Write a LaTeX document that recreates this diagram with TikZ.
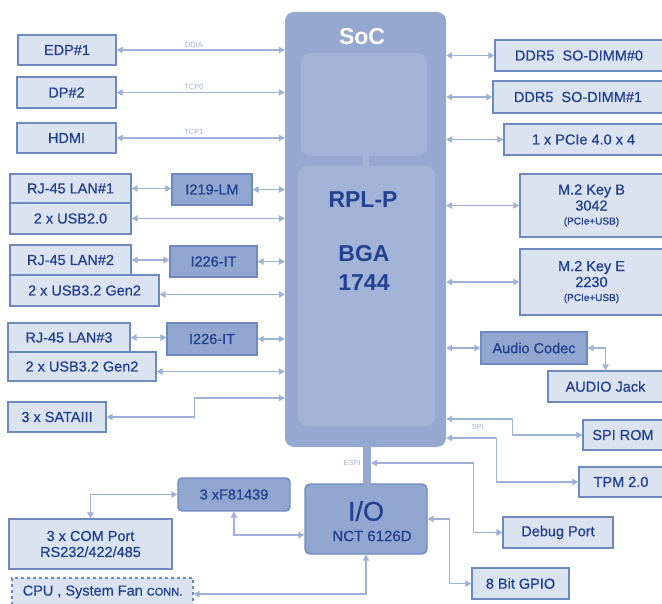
\documentclass[tikz,border=0pt]{standalone}
\usepackage{fontspec}
\setmainfont{Liberation Sans}
\newfontfamily\boxfont{Liberation Sans}[FakeBold=0.7]
\usetikzlibrary{arrows.meta,backgrounds}

\definecolor{txtblue}{RGB}{36,64,144}
\definecolor{linblue}{RGB}{158,178,214}
\definecolor{lightfill}{RGB}{219,227,241}
\definecolor{boxline}{RGB}{108,138,192}
\definecolor{darkfill}{RGB}{146,167,207}
\definecolor{socfill}{RGB}{148,168,208}
\definecolor{panelfill}{RGB}{161,180,216}

\begin{document}
\begin{tikzpicture}[x=1pt,y=-1pt]
    % `lightbox' is used for the connectors and slots.
    % `darkbox' is used for the chips (PHYs, codec, super I/O).
    % `link' is used for all the double arrows.
    \tikzstyle{lightbox} = [draw=boxline,fill=lightfill,line width=1.4pt,text=txtblue,
                            font=\boxfont\fontsize{14.5}{16}\selectfont,align=center,inner sep=0pt]
    \tikzstyle{darkbox} = [lightbox,fill=darkfill,draw=boxline]
    \tikzstyle{link} = [draw=linblue,line width=1.1pt,
                        {Triangle[length=6pt,width=6.5pt]}-{Triangle[length=6pt,width=6.5pt]}]
    \tikzstyle{tag} = [text=linblue,font=\fontsize{7.5}{8}\selectfont,inner sep=1pt]
    \tikzstyle{panel} = [fill=panelfill,rounded corners=9pt]
    %
    \useasboundingbox (0,0) rectangle (662,604);
    \fill[white] (0,0) rectangle (662,604);

    % SoC with its inner panels
    \node[fill=socfill,rounded corners=9pt,minimum width=161pt,minimum height=435pt] (soc) at (365.5,229.5) {};
    \fill[panel] (301,53) rectangle (427,156);
    \fill[panelfill] (363,155) rectangle (369,167);
    \fill[panel] (298,166) rectangle (435,426);
    \node[text=white,font=\bfseries\fontsize{23}{25}\selectfont] (soctitle) at (362,37) {SoC};
    \node[text=txtblue,font=\bfseries\fontsize{23}{26}\selectfont] (rpl) at (363,200) {RPL-P};
    \node[text=txtblue,font=\bfseries\fontsize{23}{29}\selectfont,align=center] (bga) at (364,268) {BGA\\1744};

    % super I/O and ESPI bar
    \node[darkbox,rounded corners=5pt,minimum width=122pt,minimum height=70pt] (io) at (366,519) {};
    \fill[socfill] (363,446) rectangle (371,485);
    \node[text=txtblue,font=\boxfont\fontsize{27}{29}\selectfont] (iotitle) at (366,511) {I/O};
    \node[text=txtblue,font=\boxfont\fontsize{15}{17}\selectfont] (ionct) at (372,536) {NCT 6126D};
    \coordinate (espiR) at (371,463);
    \node[tag,anchor=east] (espi) at (362,463) {ESPI};

    % left side
    \node[lightbox,minimum width=98pt,minimum height=30pt] (edp) at (67,50) {EDP\#1};
    \node[lightbox,minimum width=99pt,minimum height=31pt] (dp) at (66.5,92.5) {DP\#2};
    \node[lightbox,minimum width=99pt,minimum height=30pt] (hdmi) at (66.5,138) {HDMI};
    \node[lightbox,minimum width=121pt,minimum height=29pt] (lan1) at (70.5,188.5) {RJ-45 LAN\#1};
    \node[lightbox,minimum width=121pt,minimum height=31pt] (usb20) at (70.5,218.5) {2 x USB2.0};
    \node[darkbox,minimum width=80pt,minimum height=31pt] (i219) at (212,189.5) {I219-LM};
    \node[lightbox,minimum width=121pt,minimum height=30pt] (lan2) at (70.5,260) {RJ-45 LAN\#2};
    \node[lightbox,minimum width=149pt,minimum height=31pt] (usb32a) at (84.5,290.5) {2 x USB3.2 Gen2};
    \node[darkbox,minimum width=87pt,minimum height=31pt] (i226a) at (213.5,261.5) {I226-IT};
    \node[lightbox,minimum width=122pt,minimum height=29pt] (lan3) at (69,337.5) {RJ-45 LAN\#3};
    \node[lightbox,minimum width=148pt,minimum height=29pt] (usb32b) at (82,366.5) {2 x USB3.2 Gen2};
    \node[darkbox,minimum width=90pt,minimum height=32pt] (i226b) at (212,339) {I226-IT};
    \node[lightbox,minimum width=98pt,minimum height=30pt] (sata) at (57,417) {3 x SATAIII};
    \node[darkbox,rounded corners=4pt,minimum width=112pt,minimum height=33pt] (fintek) at (234,494.5) {3 xF81439};
    \node[lightbox,minimum width=163pt,minimum height=50pt] (com) at (90.5,544) {3 x COM Port\\RS232/422/485};
    \node[lightbox,dashed,minimum width=181pt,minimum height=28pt] (fan) at (102.5,592)
        {CPU , System Fan {\fontsize{11}{12}\selectfont CONN.}};

    % right side
    \node[lightbox,minimum width=168pt,minimum height=31pt] (ddr0) at (579,55.5) {DDR5\ \ SO-DIMM\#0};
    \node[lightbox,minimum width=170pt,minimum height=32pt] (ddr1) at (578,97) {DDR5\ \ SO-DIMM\#1};
    \node[lightbox,minimum width=159pt,minimum height=31pt] (pcie) at (583.5,139.5) {1 x PCIe 4.0 x 4};
    \node[lightbox,minimum width=143pt,minimum height=63pt] (m2b) at (591.5,205.5)
        {M.2 Key B\\3042\\[-2pt]{\fontsize{10}{11}\selectfont (PCIe+USB)}};
    \node[lightbox,minimum width=143pt,minimum height=66pt] (m2e) at (591.5,282)
        {M.2 Key E\\2230\\[-2pt]{\fontsize{10}{11}\selectfont (PCIe+USB)}};
    \node[darkbox,minimum width=106pt,minimum height=32pt] (codec) at (534,348) {Audio Codec};
    \node[lightbox,minimum width=115pt,minimum height=31pt] (jack) at (605.5,386.5) {AUDIO Jack};
    \node[lightbox,minimum width=80pt,minimum height=30pt] (spirom) at (623,435) {SPI ROM};
    \node[lightbox,minimum width=84pt,minimum height=30pt] (tpm) at (621,482) {TPM 2.0};
    \node[lightbox,minimum width=110pt,minimum height=31pt] (debug) at (558,532.5) {Debug Port};
    \node[lightbox,minimum width=97pt,minimum height=31pt] (gpio) at (520.5,583.5) {8 Bit GPIO};

    % Draw links on the left.
    \draw[link] (edp.east) -- (edp.east -| soc.west);
    \draw[link] (dp.east) -- (dp.east -| soc.west);
    \draw[link] (hdmi.east) -- (hdmi.east -| soc.west);
    \node[tag,anchor=south] (ddia) at (194,49) {DDIA};
    \node[tag,anchor=south] (tcp0) at (194,91) {TCP0};
    \node[tag,anchor=south] (tcp1) at (194,136) {TCP1};
    \draw[link] (lan1.east) -- (lan1.east -| i219.west);
    \draw[link] (i219.east) -- (i219.east -| soc.west);
    \draw[link] (usb20.east) -- (usb20.east -| soc.west);
    \draw[link] (lan2.east) -- (lan2.east -| i226a.west);
    \draw[link] (i226a.east) -- (i226a.east -| soc.west);
    \draw[link] ([yshift=-4pt]usb32a.east) -- ([yshift=-4pt]usb32a.east -| soc.west);
    \draw[link] (lan3.east) -- (lan3.east -| i226b.west);
    \draw[link] (i226b.east) -- (i226b.east -| soc.west);
    \draw[link] ([yshift=-5pt]usb32b.east) -- ([yshift=-5pt]usb32b.east -| soc.west);
    \draw[link] (sata.east) -- ++(88,0) |- ([yshift=19pt]sata.east -| soc.west);
    \draw[link] (com.north) |- (fintek.west);
    \draw[link] (fintek.south) |- ([yshift=-16pt]io.west);
    \draw[link] (io.south) |- ([yshift=-2pt]fan.east);

    % Draw links on the right.
    \draw[link] (ddr0.west -| soc.east) -- (ddr0.west);
    \draw[link] (ddr1.west -| soc.east) -- (ddr1.west);
    \draw[link] (pcie.west -| soc.east) -- (pcie.west);
    \draw[link] (m2b.west -| soc.east) -- (m2b.west);
    \draw[link] (m2e.west -| soc.east) -- (m2e.west);
    \draw[link] (codec.west -| soc.east) -- (codec.west);
    \draw[link] (codec.east) -| (jack.north);
    \draw[link] ([yshift=16pt]spirom.west -| soc.east) -| ([xshift=-70pt]spirom.west) -- (spirom.west);
    \node[tag] (spi) at (478,427) {SPI};
    \draw[link] ([yshift=44pt]tpm.west -| soc.east) -| ([xshift=-82pt]tpm.west) -- (tpm.west);
    \draw[link] (espiR) -| ([xshift=-29pt]debug.west) -- (debug.west);
    \draw[link] (io.east) -| ([xshift=-22pt]gpio.west) -- (gpio.west);
\end{tikzpicture}
\end{document}
